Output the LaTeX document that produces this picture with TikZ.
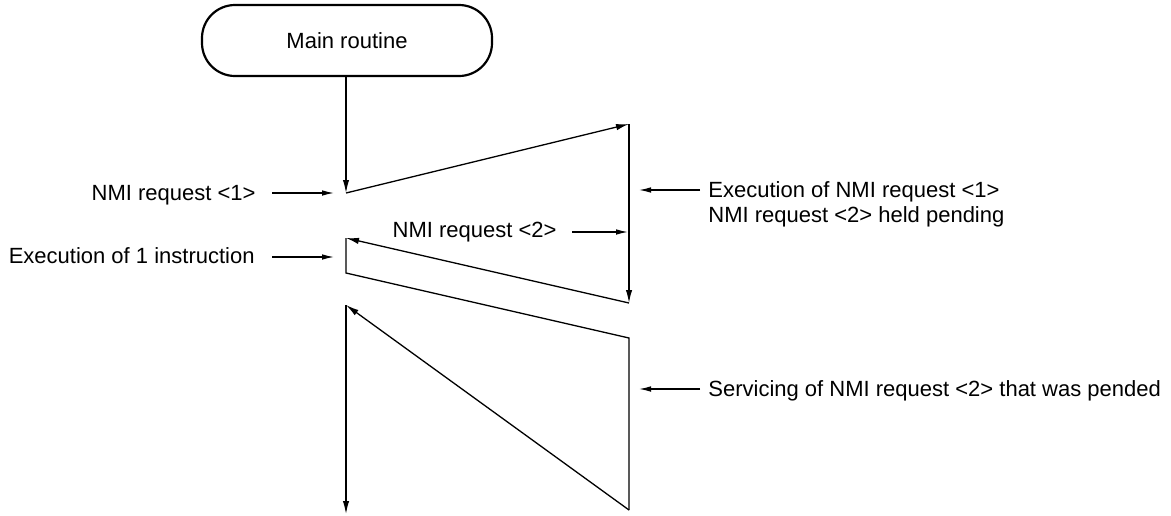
\documentclass[tikz,border=0pt]{standalone}
\usepackage{fontspec}
\setmainfont{Liberation Sans}
\usetikzlibrary{arrows.meta}
\begin{document}
\begin{tikzpicture}[x=0.5pt,y=-0.5pt,
  every node/.style={font=\fontsize{11}{13}\selectfont, inner sep=0pt},
  flow/.style={line width=0.65pt},
  arr/.style={flow, -{Latex[length=6.5pt,width=3.2pt]}},
  lblarr/.style={line width=0.6pt, -{Latex[length=6pt,width=2.8pt]}},
  startbox/.style={draw, line width=1.1pt, rounded corners=16.5pt, minimum width=145pt, minimum height=35.5pt}]
\useasboundingbox (0,0) rectangle (1171,515);

\node[startbox] (main) at (347,40.5) {Main routine};

\coordinate (p1) at (346,193);
\coordinate (p2) at (629,124);
\coordinate (p3) at (629,303);
\coordinate (p4) at (346,238);
\coordinate (p5) at (346,273);
\coordinate (p6) at (629,338);
\coordinate (p7) at (629,510);
\coordinate (p8) at (346,305);
\coordinate (p9) at (346,514);

\draw[arr] (main.south -| p1) -- (p1);
\draw[arr] (p1) -- (p2);
\draw[arr] (p2) -- (p3);
\draw[arr] (p3) -- (p4);
\draw[flow] (p4) -- (p5) -- (p6) -- (p7);
\draw[arr] (p7) -- (p8);
\draw[arr] (p8) -- (p9);

% labels
\node[anchor=base east] (l1) at (256,200) {NMI request <1>};
\coordinate (l1s) at (272,193); \coordinate (l1e) at (334,193);
\draw[lblarr] (l1s) -- (l1e);

\node[anchor=base east] (l2) at (255,263) {Execution of 1 instruction};
\coordinate (l2s) at (272,257); \coordinate (l2e) at (334,257);
\draw[lblarr] (l2s) -- (l2e);

\node[anchor=base east] (l3) at (557,237) {NMI request <2>};
\coordinate (l3s) at (572,232); \coordinate (l3e) at (628,232);
\draw[lblarr] (l3s) -- (l3e);

\node[anchor=base west] (l4a) at (708,197) {Execution of NMI request <1>};
\node[anchor=base west] (l4b) at (708,222) {NMI request <2> held pending};
\coordinate (l4s) at (700,190); \coordinate (l4e) at (639,190);
\draw[lblarr] (l4s) -- (l4e);

\node[anchor=base west] (l5) at (708,396) {Servicing of NMI request <2> that was pended};
\coordinate (l5s) at (700,389); \coordinate (l5e) at (639,389);
\draw[lblarr] (l5s) -- (l5e);
\end{tikzpicture}
\end{document}
